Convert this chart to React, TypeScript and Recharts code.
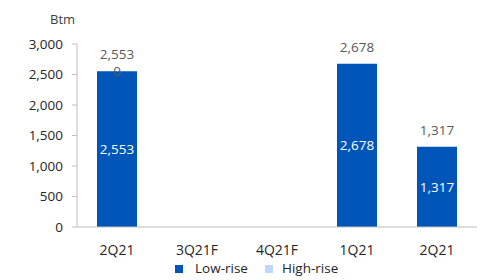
import React from 'react';
import { BarChart, Bar, XAxis, YAxis, LabelList } from 'recharts';

const categories = ['2Q21', '3Q21F', '4Q21F', '1Q21', '2Q21'];
const lowRise = [2553, 0, 0, 2678, 1317];
const highRise: (number | null)[] = [0, null, null, null, null];
const yTicks = [0, 500, 1000, 1500, 2000, 2500, 3000];

const data = categories.map((c, i) => ({
  name: c,
  low: lowRise[i],
  high: highRise[i],
  total: lowRise[i] + (highRise[i] ?? 0),
}));

const FONT = '"Open Sans", sans-serif';
const FS = 13.5;
const fmt = (v: number) => v.toLocaleString('en-US');

const TotalLabel = (props: any) => {
  const { x, y, width, value } = props;
  if (!value) return null;
  return (
    <text x={x + width / 2} y={y - 17} textAnchor="middle" dominantBaseline="central"
      fill="#595959" fontSize={FS} fontFamily={FONT}>
      {fmt(value)}
    </text>
  );
};

const InsideLabel = (props: any) => {
  const { x, y, width, height, value } = props;
  return (
    <text x={x + width / 2} y={y + height / 2} textAnchor="middle" dominantBaseline="central"
      fill="#ffffff" fontSize={FS} fontFamily={FONT}>
      {fmt(value)}
    </text>
  );
};

// high-rise is zero-height, so its label sits on top of the low-rise bar
const HighLabel = (props: any) => {
  const { x, y, width, value } = props;
  if (value === null || value === undefined) return null;
  return (
    <text x={x + width / 2} y={y} textAnchor="middle" dominantBaseline="central"
      fill="#595959" fontSize={FS} fontFamily={FONT}>
      {fmt(value)}
    </text>
  );
};

export default function App() {
  return (
    <div style={{ position: 'absolute', left: 0, top: 0, width: 484, height: 280, background: '#fff' }}>
      <div style={{ position: 'absolute', left: 50, top: 10, fontFamily: FONT, fontSize: 13, color: '#404040' }}>Btm</div>
      <BarChart width={484} height={280} data={data}
        margin={{ top: 44, right: 7, left: 0, bottom: 23 }} barCategoryGap="25%">
        <YAxis width={77} domain={[0, 3000]} ticks={yTicks} tickFormatter={fmt}
          axisLine={{ stroke: '#bfbfbf' }} tickLine={{ stroke: '#bfbfbf' }} tickSize={5} tickMargin={9}
          tick={{ fill: '#262626', fontSize: FS, fontFamily: FONT }} interval={0} />
        <XAxis dataKey="name" height={30} axisLine={{ stroke: '#bfbfbf' }} tickLine={false} tickMargin={12}
          tick={{ fill: '#262626', fontSize: 14, fontFamily: FONT }} interval={0} />
        <Bar dataKey="low" stackId="a" fill="#0055B8" isAnimationActive={false}>
          <LabelList dataKey="low" content={<InsideLabel />} />
          <LabelList dataKey="total" content={<TotalLabel />} />
          <LabelList dataKey="high" content={<HighLabel />} />
        </Bar>
        <Bar dataKey="high" stackId="a" fill="#BDD7FF" isAnimationActive={false} />
      </BarChart>
      <div style={{ position: 'absolute', left: 0, top: 259, width: 484, height: 20, fontFamily: FONT, fontSize: FS, color: '#262626' }}>
        <div style={{ position: 'absolute', left: 175, top: 6, width: 8, height: 8, background: '#0055B8' }} />
        <div style={{ position: 'absolute', left: 195, top: 0 }}>Low-rise</div>
        <div style={{ position: 'absolute', left: 265, top: 6, width: 8, height: 8, background: '#BDD7FF' }} />
        <div style={{ position: 'absolute', left: 282, top: 0 }}>High-rise</div>
      </div>
    </div>
  );
}
